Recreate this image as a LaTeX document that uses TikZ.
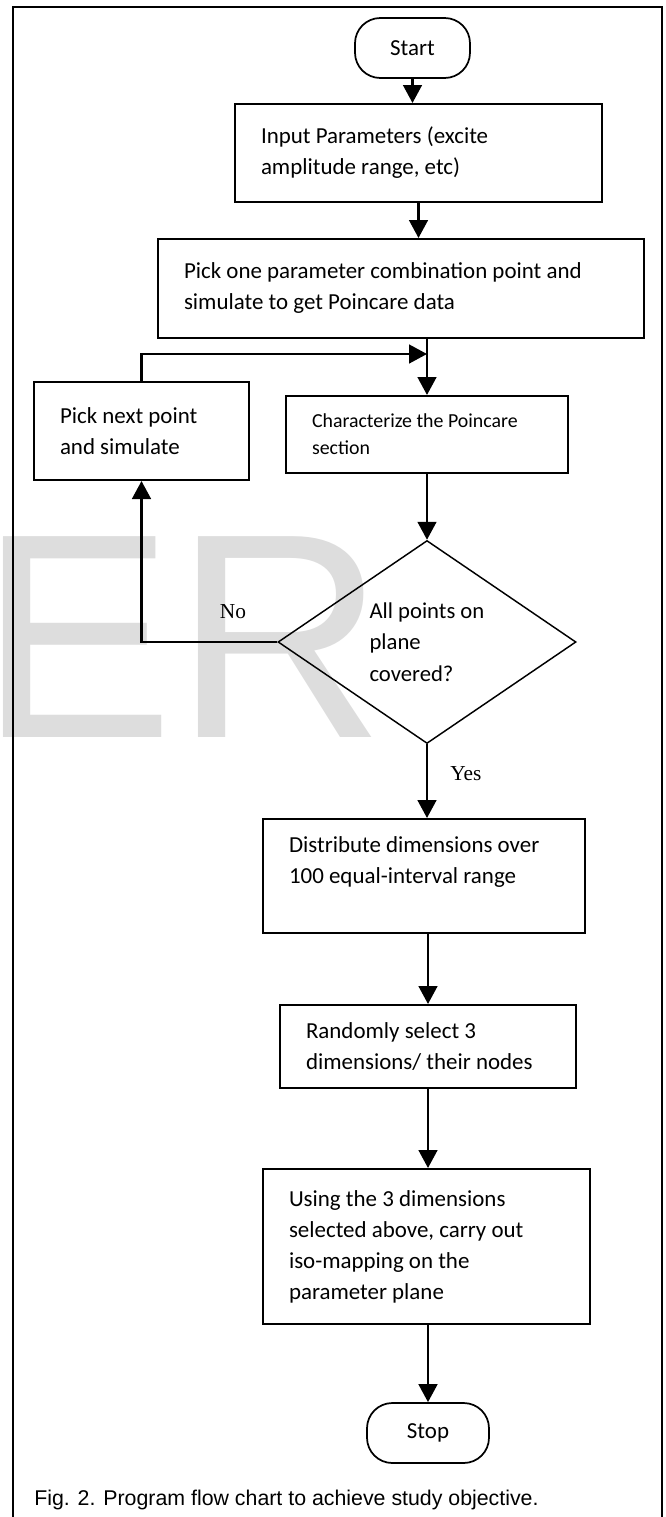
\documentclass[tikz,border=0pt]{standalone}
\usepackage{fontspec}
\setmainfont{Carlito}
\newfontfamily\capfont{Liberation Sans}
\newfontfamily\lblfont{Liberation Serif}
\usetikzlibrary{shapes.geometric,arrows.meta}

\definecolor{wmgray}{RGB}{221,221,221}

\tikzset{
  procbox/.style={draw, rectangle, line width=1.5pt, align=flush left, inner xsep=19.5pt, inner ysep=0pt,
    font=\fontsize{17.2}{23.25}\selectfont},
  termbox/.style={draw, rectangle, line width=1.3pt, rounded corners=19pt, inner sep=0pt,
    minimum height=45pt, font=\fontsize{17.2}{23.25}\selectfont},
  decbox/.style={draw, diamond, line width=1.1pt, align=flush left, inner sep=0pt,
    font=\fontsize{17}{23.5}\selectfont},
  lbltext/.style={inner sep=0pt, font=\lblfont\fontsize{16}{19}\selectfont},
  flowarrow/.style={line width=2pt, -{Triangle[length=13.5pt,width=14pt]}},
}

\begin{document}
\begin{tikzpicture}[x=0.75pt,y=0.75pt,yscale=-1,xscale=1]
\useasboundingbox (0,0) rectangle (665,1517);

% Watermark
\node[anchor=base west, inner sep=0pt, text=wmgray, font=\capfont\fontsize{219}{219}\selectfont] (mark) at (0,737) {\kern-15.75pt ER};

%Shape: Frame
\draw[line width=1.2pt] (13,1517) -- (13,7) -- (662,7) -- (662,1517);

%Shape: Terminal
\node[termbox, minimum width=86.25pt] (start) at (412.5,48) {Start};
%Shape: Rectangle
\node[procbox, text width=236.25pt, minimum height=73.5pt] (input) at (418.5,153) {Input Parameters (excite\\amplitude range, etc)};
%Shape: Rectangle
\node[procbox, text width=325.5pt, minimum height=74.25pt] (pickone) at (401,288.5) {Pick one parameter combination point and\\simulate to get Poincare data};
%Shape: Rectangle
\node[procbox, text width=122.25pt, minimum height=73.5pt] (picknext) at (141.5,431) {Pick next point\\and simulate};
%Shape: Rectangle
\node[procbox, font=\fontsize{14.9}{20.25}\selectfont, text width=172.5pt, minimum height=57.75pt] (charac) at (427,434.5) {Characterize the Poincare\\section};
%Shape: Diamond
\node[decbox, minimum width=223.5pt, minimum height=152.25pt] (cover) at (427,642) {All points on\\plane\\covered?};
%Shape: Rectangle
\node[procbox, text width=202.5pt, minimum height=85.5pt] (distrib) at (424,876) {Distribute dimensions over\\100 equal-interval range\\\mbox{}};
%Shape: Rectangle
\node[procbox, text width=183pt, minimum height=62.25pt] (randsel) at (428,1046.5) {Randomly select 3\\dimensions/ their nodes};
%Shape: Rectangle
\node[procbox, text width=206.25pt, minimum height=116.25pt] (isomap) at (426.5,1246.5) {Using the 3 dimensions\\selected above, carry out\\iso-mapping on the\\parameter plane};
%Shape: Terminal
\node[termbox, minimum width=91.5pt] (stop) at (428,1433) {Stop};

% Text Node
\node[lbltext] (nolbl) at (233,612) {No};
% Text Node
\node[lbltext, anchor=west] (yeslbl) at (450,774) {Yes};

%Straight Lines
\coordinate (merge) at (427,354);
\draw[flowarrow] (start.south) -- (start.south |- input.north);
\draw[flowarrow] (input.south) -- (input.south |- pickone.north);
\draw[flowarrow] (charac.north |- pickone.south) -- (charac.north);
\draw[flowarrow] (picknext.north) |- (merge);
\draw[flowarrow] (charac.south) -- (cover.north);
\draw[flowarrow] (cover.west) -| (picknext.south);
\draw[flowarrow] (cover.south) -- (cover.south |- distrib.north);
\draw[flowarrow] (randsel.north |- distrib.south) -- (randsel.north);
\draw[flowarrow] (randsel.south) -- (randsel.south |- isomap.north);
\draw[flowarrow] (stop.north |- isomap.south) -- (stop.north);

% Text Node
\node[anchor=base west, inner sep=0pt, font=\capfont\fontsize{16}{19}\selectfont] (caption) at (34,1505) {Fig. 2. Program flow chart to achieve study objective.};

\end{tikzpicture}
\end{document}
